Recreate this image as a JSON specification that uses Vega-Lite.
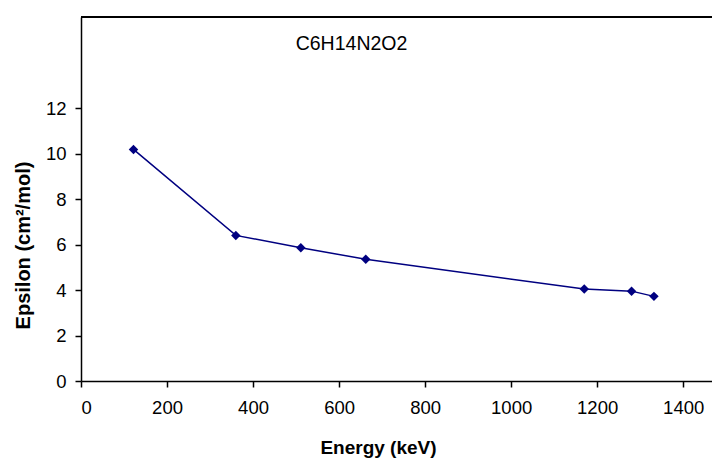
{
  "$schema": "https://vega.github.io/schema/vega-lite/v6.json",
  "width": 631,
  "height": 364,
  "autosize": "none",
  "padding": {"left": 81, "top": 17, "right": 0, "bottom": 80},
  "background": "white",
  "config": {
    "view": {"stroke": null},
    "axis": {"grid": false, "domainColor": "black", "tickColor": "black", "labelColor": "black", "titleColor": "black", "labelFont": "Liberation Sans", "titleFont": "Liberation Sans", "labelFontSize": 18.5, "titleFontSize": 19, "tickSize": 6, "domainWidth": 1.5, "tickWidth": 1.5, "format": "d"}
  },
  "title": {"text": "C6H14N2O2", "anchor": "middle", "dx": -45, "dy": 42, "fontSize": 19.5, "fontWeight": "normal", "font": "Liberation Sans", "color": "black"},
  "data": {"values": [
    {"energy": 122, "epsilon": 10.18},
    {"energy": 360, "epsilon": 6.4},
    {"energy": 511, "epsilon": 5.86},
    {"energy": 662, "epsilon": 5.35},
    {"energy": 1170, "epsilon": 4.04},
    {"energy": 1280, "epsilon": 3.95},
    {"energy": 1332, "epsilon": 3.72}
  ]},
  "layer": [
    {
      "mark": {"type": "line", "color": "#000080", "strokeWidth": 1.5},
      "encoding": {
        "x": {"field": "energy", "type": "quantitative", "scale": {"domain": [0, 1467], "nice": false, "zero": false}, "axis": {"values": [0, 200, 400, 600, 800, 1000, 1200, 1400], "title": "Energy (keV)", "titleX": 297, "titleY": 57, "titleFontWeight": "bold", "labelPadding": 11}},
        "y": {"field": "epsilon", "type": "quantitative", "scale": {"domain": [0, 16], "nice": false}, "axis": {"values": [0, 2, 4, 6, 8, 10, 12], "title": "Epsilon (cm²/mol)", "titleX": -48, "titleY": 228, "titleFontSize": 20, "titleFontWeight": "bold", "labelPadding": 9}}
      }
    },
    {
      "mark": {"type": "point", "shape": "diamond", "filled": true, "color": "#000080", "size": 90, "opacity": 1},
      "encoding": {
        "x": {"field": "energy", "type": "quantitative"},
        "y": {"field": "epsilon", "type": "quantitative"}
      }
    },
    {
      "mark": {"type": "rule", "color": "black", "strokeWidth": 1.5},
      "encoding": {"y": {"datum": 16}}
    }
  ]
}
